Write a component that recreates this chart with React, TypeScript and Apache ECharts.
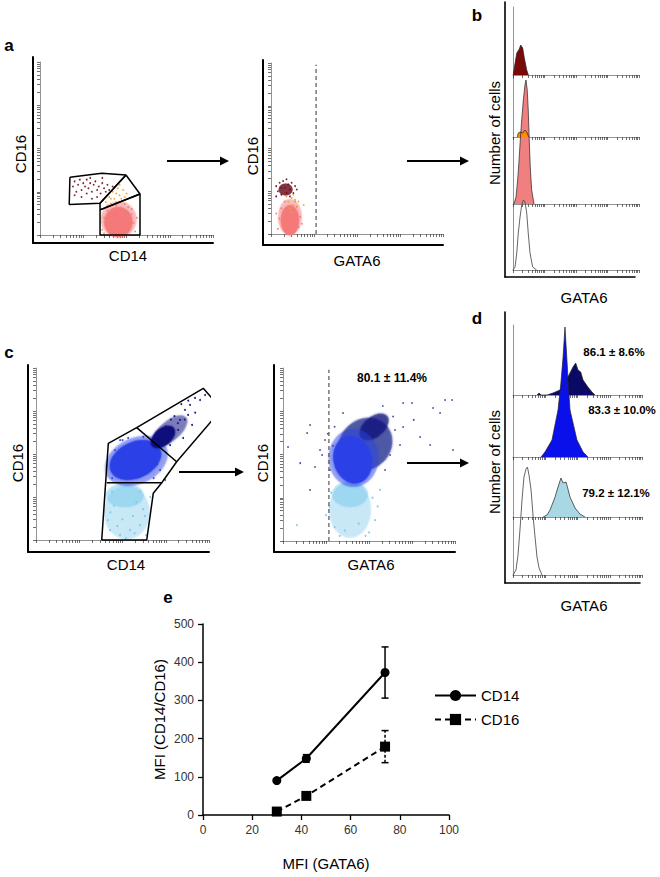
import React, { useEffect, useRef } from "react";
import * as echarts from "echarts";

const FONT = "'Liberation Sans', Arial, Helvetica, sans-serif";

// ---------------- Panel e: MFI values ----------------
const E_GATA6_MFI = [30, 42, 74];
const E_CD14_MFI = [90, 148, 373];
const E_CD14_SD = [4, 10, 67];
const E_CD16_MFI = [9, 50, 179];
const E_CD16_SD = [3, 5, 42];
const E_X_MIN = 0, E_X_MAX = 100, E_X_STEP = 20;
const E_Y_MIN = 0, E_Y_MAX = 500, E_Y_STEP = 100;
const E_SERIES = ["CD14", "CD16"];

// ---------------- Flow cytometry log-decade ticks (4 decades on a 0-100 channel scale) ----------------
const DECADE_TICKS = [0, 7.5, 11.9, 15.1, 17.5, 19.5, 21.1, 22.6, 23.9];
const DECADE_STARTS = [0, 25, 50, 75];
const LOG_TICKS = DECADE_STARTS.flatMap((d) => DECADE_TICKS.map((t) => +(d + t).toFixed(1))).concat([100]);

// ---------------- Panel a, left: CD14 vs CD16 ----------------
const A1_GATE_CD16 = [[17.3, 33.4], [35.7, 35.7], [49.7, 34.7], [34.7, 18.3], [16.9, 17.7], [17.3, 33.4]];
const A1_GATE_INTER = [[49.7, 34.7], [57.8, 23.7], [34.7, 14.5], [34.7, 18.3], [49.7, 34.7]];
const A1_GATE_CD14 = [[34.7, 14.5], [57.8, 23.7], [57.8, 0], [34.7, 0], [34.7, 14.5]];
const A1_PINK_CLOUD = [[45.5, 9.0], [45.3, 7.5]];
const A1_PINK_DOTS = [[36, 3], [37, 10], [38, 6], [39, 14], [40, 2], [52, 4], [53, 12], [54, 7], [55, 2], [51, 16], [49, 18], [41, 17], [56, 10], [38, 16], [53, 15], [46, 19], [44, 17], [37, 1]];
const A1_MAROON_DOTS = [[19, 28], [20, 31], [21, 25], [22, 29], [23, 32], [24, 26], [25, 30], [26, 28], [27, 24], [27, 32], [28, 27], [29, 30], [30, 25], [31, 29], [32, 31], [33, 26], [34, 28], [35, 24], [36, 30], [37, 27], [38, 25], [39, 29], [40, 26], [42, 28], [24, 22], [30, 21], [20, 23], [33, 22], [29, 33], [36, 33]];
const A1_ORANGE_DOTS = [[38, 19], [40, 22], [41, 18], [42, 25], [43, 21], [44, 19], [45, 27], [46, 23], [47, 21], [48, 26], [44, 24], [41, 21], [50, 24], [39, 17], [46, 29], [49, 22]];

// ---------------- Panel a, right: GATA6 vs CD16 ----------------
const A2_THRESHOLD = 26.2;
const A2_PINK_CLOUD = [[11.0, 10.0], [11.0, 8.0]];
const A2_PINK_DOTS = [[4, 3], [5, 9], [6, 15], [16, 4], [17, 10], [15, 16], [8, 19], [14, 19], [3, 12], [18, 6]];
const A2_MAROON_CLOUD = [[8.5, 26.0]];
const A2_MAROON_DOTS = [[3, 28], [4, 25], [5, 30], [6, 23], [7, 31], [8, 27], [9, 24], [10, 29], [11, 26], [12, 30], [13, 24], [14, 28], [6, 27], [9, 32], [11, 22], [3, 22], [15, 26]];
const A2_ORANGE_DOTS = [[10, 19], [12, 21], [13, 17], [11, 15], [14, 20], [12, 13], [9, 22], [15, 16], [16, 19], [19, 17], [13, 23]];

// ---------------- Panel b: GATA6 histograms (x = GATA6 channel, y = cell count) ----------------
const B_CD16_POS = [[0.2, 0], [1.0, 7], [3.0, 22], [5.0, 26], [6.1, 30], [7.7, 27], [9.0, 17], [10.9, 5], [12.2, 0]];
const B_INTERMEDIATE = [[3.4, 0], [4.2, 4], [5.6, 5], [7.7, 4], [9.5, 7], [10.9, 5], [12.5, 0]];
const B_CLASSICAL = [[0.8, 0], [2.4, 7], [3.7, 24], [4.8, 44], [5.8, 64], [6.9, 84], [8.2, 104], [9.5, 119], [10.3, 124], [11.3, 114], [12.1, 94], [12.9, 64], [13.7, 37], [14.8, 14], [16.7, 0]];
const B_ISOTYPE = [[0, 0], [1.6, 3], [3.0, 17], [4.2, 37], [5.6, 53], [6.9, 65], [8.2, 70], [9.5, 68], [10.9, 57], [12.1, 37], [13.5, 17], [15.6, 3], [18.8, 0]];

// ---------------- Panel c, left: CD14 vs CD16 ----------------
const C1_GATE_OUTER = [[38.0, 0], [41.8, 56.2], [58.2, 65.3], [96.7, 88.2], [107.3, 76.0], [81.3, 45.5], [72.7, 33.3], [67.8, 27.2], [64.0, 0], [38.0, 0]];
const C1_GATE_SPLIT_UPPER = [[58.2, 65.3], [81.3, 45.5]];
const C1_GATE_SPLIT_LOWER = [[40.9, 33.3], [72.7, 33.3]];
const C1_LIGHTBLUE_CLOUD = [[52.5, 16.0], [51.4, 26.0]];
const C1_BLUE_CLOUD = [[58.0, 46.0], [57.5, 46.5]];
const C1_NAVY_CLOUD = [[77.5, 63.5], [73.4, 59.9]];
const C1_NAVY_DOTS = [[83.2, 69.8], [86.1, 75.6], [89, 78.5], [91.9, 82.6], [94.8, 81.4], [87.9, 72.7], [82.1, 64], [97.7, 84.3], [90.2, 66.9], [77.5, 55.2], [85, 59.3], [80, 72], [84, 79], [92, 74], [88, 81], [79, 62], [82, 68], [86, 70], [75, 66], [78, 70]];
const C1_BLUE_DOTS = [[43.9, 40.7], [45.7, 52.3], [48.6, 58.1], [71.7, 40.7], [74.6, 34.9], [53.2, 59.3], [44, 36], [68, 36], [62, 60], [46, 47], [70, 44], [50, 58]];
const C1_LIGHTBLUE_DOTS = [[42.8, 5.8], [48.6, 2.9], [60.1, 8.7], [63, 14], [41.6, 11.6], [54.3, 5.8], [63.6, 2.9], [45, 20], [58, 22], [62, 18], [50, 12], [56, 14], [44, 28], [66, 25], [47, 8], [57, 4], [52, 1], [43, 16], [60, 28]];

// ---------------- Panel c, right: GATA6 vs CD16 ----------------
const C2_THRESHOLD = 26.7;
const C2_LABEL = "80.1 ± 11.4%";
const C2_LIGHTBLUE_CLOUD = [[39.0, 18.0], [39.0, 27.0]];
const C2_NAVY_CLOUD = [[48.0, 56.0], [53.0, 66.0]];
const C2_BLUE_CLOUD = [[41.0, 48.0], [40.5, 47.0]];
const C2_SPARSE_DOTS = [[2.9, 54.3], [14, 62.4], [15.7, 67.1], [34.9, 74], [69.8, 79.8], [75, 79.8], [87.2, 76.9], [91.3, 74], [94.2, 81.5], [98.3, 81.5], [98.8, 52.6], [85.5, 55.5], [69.8, 65.9], [15.7, 29.5], [21.5, 52.6], [18.6, 42.8], [79.7, 60.1], [24.4, 58.4], [27.3, 41], [22.7, 49.7], [65.1, 64.2], [68, 55.5], [59.3, 41], [62.2, 49.7], [10, 45], [30, 66], [76, 70], [64, 72], [58, 78], [26, 62], [29, 55]];
const C2_LIGHTBLUE_DOTS = [[8.1, 9.2], [56.4, 29.5], [53.5, 12.1], [25, 15], [30, 8], [50, 5], [28, 28], [55, 20], [48, 3], [33, 3], [36, 6], [44, 10], [27, 20], [52, 25]];

// ---------------- Panel d: GATA6 histograms ----------------
const D_CD16_POS = [[18.6, 0], [20.2, 2], [21.7, 0], [26.4, 0], [31.0, 2], [36.4, 5], [40.3, 10], [42.6, 18], [46.5, 28], [48.6, 32], [50.4, 25], [52.5, 23], [54.3, 15], [58.1, 8], [61.2, 3], [63.6, 0]];
const D_INTERMEDIATE = [[21.7, 0], [24.8, 5], [30.2, 17], [34.9, 47], [37.2, 75], [38.8, 100], [40.3, 130], [41.9, 95], [43.0, 70], [44.2, 47], [49.6, 17], [54.3, 5], [58.1, 0]];
const D_CLASSICAL = [[23.3, 0], [26.4, 2], [28.7, 7], [32.6, 20], [34.9, 30], [37.2, 39], [38.8, 34], [41.1, 35], [42.6, 28], [44.2, 20], [48.1, 9], [51.9, 3], [55.8, 0]];
const D_ISOTYPE = [[0, 0], [2.3, 5], [3.9, 20], [5.4, 45], [7.0, 75], [8.5, 98], [10.1, 106], [11.2, 108], [12.4, 100], [14.0, 85], [15.5, 60], [17.1, 38], [18.6, 18], [20.2, 7], [22.5, 0]];
const D_LABELS = ["86.1 ± 8.6%", "83.3 ± 10.0%", "79.2 ± 12.1%"];

// ---------------- Colours ----------------
const PINK = "#f47878";
const MAROON = "#6e0c1e";
const ORANGE = "#f0a02a";
const BLUE = "#2b40e6";
const NAVY = "#0d0f7c";
const LIGHTBLUE = "#74c6ea";
const D_BLUE = "#0a10ec";
const D_NAVY = "#0a0a66";
const D_LIGHTBLUE = "#a8d8e4";

function buildOption() {
  const grids: any[] = [
    { left: 203, top: 624, width: 246, height: 191 }, // 0 e
    { left: 33, top: 57, width: 180, height: 186 }, // 1 a1 frame
    { left: 40, top: 62, width: 173, height: 173 }, // 2 a1 inner
    { left: 263, top: 60, width: 180, height: 185 }, // 3 a2 frame
    { left: 271, top: 63, width: 172, height: 171 }, // 4 a2 inner
    { left: 505, top: 2, width: 130, height: 275 }, // 5 b frame
    { left: 513, top: 7, width: 126, height: 68 }, // 6 b lane 1
    { left: 513, top: 75, width: 126, height: 62 }, // 7 b lane 2
    { left: 513, top: 137, width: 126, height: 67 }, // 8 b lane 3
    { left: 513, top: 204, width: 126, height: 66 }, // 9 b lane 4
    { left: 28, top: 365, width: 181, height: 187 }, // 10 c1 frame
    { left: 36, top: 368, width: 173, height: 172 }, // 11 c1 inner
    { left: 274, top: 365, width: 181, height: 187 }, // 12 c2 frame
    { left: 283, top: 368, width: 172, height: 173 }, // 13 c2 inner
    { left: 505, top: 312, width: 135, height: 271 }, // 14 d frame
    { left: 513, top: 325, width: 129, height: 70 }, // 15 d lane 1
    { left: 513, top: 395, width: 129, height: 62 }, // 16 d lane 2
    { left: 513, top: 457, width: 129, height: 60 }, // 17 d lane 3
    { left: 513, top: 517, width: 129, height: 58 }, // 18 d lane 4
  ].map((g) => ({ ...g, outerBoundsMode: "none", containLabel: false }));

  const xAxis: any[] = [];
  const yAxis: any[] = [];

  // e axes
  xAxis.push({
    type: "value", gridIndex: 0, min: E_X_MIN, max: E_X_MAX, interval: E_X_STEP,
    name: "MFI (GATA6)", nameLocation: "middle", nameGap: 41,
    nameTextStyle: { fontFamily: FONT, fontSize: 15, color: "#000" },
    axisLine: { show: true, onZero: false, lineStyle: { color: "#000", width: 1.5 } },
    axisTick: { show: true, length: 5, lineStyle: { color: "#000", width: 1.3 } },
    axisLabel: { fontFamily: FONT, fontSize: 12, color: "#333", margin: 9 },
    splitLine: { show: false },
  });
  yAxis.push({
    type: "value", gridIndex: 0, min: E_Y_MIN, max: E_Y_MAX, interval: E_Y_STEP,
    name: "MFI (CD14/CD16)", nameLocation: "middle", nameGap: 36,
    nameTextStyle: { fontFamily: FONT, fontSize: 15, color: "#000" },
    axisLine: { show: true, onZero: false, lineStyle: { color: "#000", width: 1.5 } },
    axisTick: { show: true, length: 5, lineStyle: { color: "#000", width: 1.3 } },
    axisLabel: { fontFamily: FONT, fontSize: 12, color: "#333", margin: 9 },
    splitLine: { show: false },
  });

  const frameAxis = (gi: number, width = 1.8) => ({
    type: "value", gridIndex: gi, min: 0, max: 1,
    axisLine: { show: true, onZero: false, lineStyle: { color: "#000", width } },
    axisTick: { show: false }, axisLabel: { show: false }, splitLine: { show: false },
  });
  const innerAxis = (gi: number, ticks: boolean, max = 100) => ({
    type: "value", gridIndex: gi, min: 0, max,
    axisLine: { show: true, onZero: false, lineStyle: { color: "#777", width: 0.8 } },
    axisTick: ticks
      ? { show: true, customValues: LOG_TICKS, length: 3, lineStyle: { color: "#333", width: 0.7 } }
      : { show: false },
    axisLabel: { show: false }, splitLine: { show: false },
  });

  const laneHeights: Record<number, number> = { 6: 68, 7: 62, 8: 67, 9: 66, 15: 70, 16: 62, 17: 60, 18: 58 };
  for (let gi = 1; gi < grids.length; gi++) {
    if ([1, 3, 10, 12].includes(gi)) {
      xAxis.push(frameAxis(gi, 2));
      yAxis.push(frameAxis(gi, 2));
    } else if ([5, 14].includes(gi)) {
      xAxis.push(frameAxis(gi, 1.6));
      yAxis.push(frameAxis(gi, 1.6));
    } else if (laneHeights[gi] !== undefined) {
      xAxis.push(innerAxis(gi, true));
      yAxis.push(innerAxis(gi, false, laneHeights[gi]));
    } else {
      xAxis.push(innerAxis(gi, true));
      yAxis.push(innerAxis(gi, true));
    }
  }

  const series: any[] = [];

  // ---- e ----
  const errorBars = (name: string, means: number[], sds: number[], dashed: boolean) => ({
    type: "custom", name, xAxisIndex: 0, yAxisIndex: 0, z: 2, silent: true,
    data: E_GATA6_MFI.map((x, i) => [x, means[i] - sds[i], means[i] + sds[i]]),
    encode: { x: 0, y: [1, 2] },
    renderItem: (_p: any, api: any) => {
      const x = api.value(0);
      const lo = api.coord([x, api.value(1)]);
      const hi = api.coord([x, api.value(2)]);
      const w = 3.5;
      const st: any = { stroke: "#000", lineWidth: 1.5 };
      const stem: any = dashed ? { ...st, lineDash: [3, 2] } : st;
      return {
        type: "group",
        children: [
          { type: "line", shape: { x1: lo[0], y1: lo[1], x2: hi[0], y2: hi[1] }, style: stem },
          { type: "line", shape: { x1: hi[0] - w, y1: hi[1], x2: hi[0] + w, y2: hi[1] }, style: st },
          { type: "line", shape: { x1: lo[0] - w, y1: lo[1], x2: lo[0] + w, y2: lo[1] }, style: st },
        ],
      };
    },
  });
  series.push(errorBars("CD14 SD", E_CD14_MFI, E_CD14_SD, false));
  series.push(errorBars("CD16 SD", E_CD16_MFI, E_CD16_SD, true));
  series.push({
    type: "line", name: E_SERIES[0], xAxisIndex: 0, yAxisIndex: 0, z: 3,
    data: E_GATA6_MFI.map((x, i) => [x, E_CD14_MFI[i]]),
    symbol: "circle", symbolSize: 9, showSymbol: true,
    lineStyle: { color: "#000", width: 2 }, itemStyle: { color: "#000" },
  });
  series.push({
    type: "line", name: E_SERIES[1], xAxisIndex: 0, yAxisIndex: 0, z: 3,
    data: E_GATA6_MFI.map((x, i) => [x, E_CD16_MFI[i]]),
    symbol: "rect", symbolSize: 10, showSymbol: true,
    lineStyle: { color: "#000", width: 2, type: [6, 4] }, itemStyle: { color: "#000" },
  });

  // ---- helpers for flow panels ----
  const gate = (gi: number, data: number[][]) => ({
    type: "line", xAxisIndex: gi, yAxisIndex: gi, data, symbol: "none", showSymbol: false,
    clip: false, silent: true, z: 6, lineStyle: { color: "#000", width: 1.5 },
  });
  const threshold = (gi: number, x: number) => ({
    type: "line", xAxisIndex: gi, yAxisIndex: gi, data: [[x, 0], [x, 99]], symbol: "none",
    showSymbol: false, silent: true, z: 6, lineStyle: { color: "#333", width: 1, type: [4, 3] },
  });
  const blob = (gi: number, pt: number[], size: number[], rotate: number, color: string, opacity: number, blur = 2) => ({
    type: "scatter", xAxisIndex: gi, yAxisIndex: gi, data: [pt], symbol: "circle",
    symbolSize: size, symbolRotate: rotate, silent: true, z: 2,
    itemStyle: { color, opacity, shadowBlur: blur, shadowColor: color },
  });
  const dots = (gi: number, data: number[][], color: string, size = 2) => ({
    type: "scatter", xAxisIndex: gi, yAxisIndex: gi, data, symbol: "circle", symbolSize: size,
    silent: true, z: 3, itemStyle: { color, opacity: 0.9 },
  });
  const hist = (gi: number, data: number[][], fill: string | null) => ({
    type: "line", xAxisIndex: gi, yAxisIndex: gi, data, symbol: "none", showSymbol: false,
    clip: false, silent: true, z: 2,
    lineStyle: { color: fill ? "#222" : "#555", width: fill ? 0.7 : 0.9 },
    areaStyle: fill ? { color: fill, opacity: 1 } : undefined,
  });

  // ---- a1 ----
  series.push(blob(2, A1_PINK_CLOUD[0], [36, 36], 0, PINK, 0.3));
  series.push(blob(2, A1_PINK_CLOUD[1], [28, 30], 0, PINK, 0.92));
  series.push(dots(2, A1_PINK_DOTS, PINK, 1.8));
  series.push(dots(2, A1_MAROON_DOTS, MAROON, 1.8));
  series.push(dots(2, A1_ORANGE_DOTS, ORANGE, 1.8));
  series.push(gate(2, A1_GATE_CD16));
  series.push(gate(2, A1_GATE_INTER));
  series.push(gate(2, A1_GATE_CD14));

  // ---- a2 ----
  series.push(blob(4, A2_PINK_CLOUD[0], [24, 36], 0, PINK, 0.3));
  series.push(blob(4, A2_PINK_CLOUD[1], [18, 30], 0, PINK, 0.92));
  series.push(dots(4, A2_PINK_DOTS, PINK, 1.8));
  series.push(dots(4, A2_ORANGE_DOTS, ORANGE, 1.8));
  series.push(blob(4, A2_MAROON_CLOUD[0], [14, 12], 0, MAROON, 0.6, 1));
  series.push(dots(4, A2_MAROON_DOTS, MAROON, 1.8));
  series.push(threshold(4, A2_THRESHOLD));

  // ---- b ----
  series.push(hist(6, B_CD16_POS, "#7a0a0a"));
  series.push(hist(8, B_CLASSICAL, "#f08080"));
  series.push(hist(7, B_INTERMEDIATE, "#ff8c00"));
  series.push(hist(9, B_ISOTYPE, null));

  // ---- c1 ----
  series.push(blob(11, C1_LIGHTBLUE_CLOUD[0], [46, 54], 0, LIGHTBLUE, 0.22));
  series.push(blob(11, C1_LIGHTBLUE_CLOUD[1], [38, 24], 0, LIGHTBLUE, 0.3));
  series.push(blob(11, C1_BLUE_CLOUD[0], [66, 46], 25, BLUE, 0.3));
  series.push(blob(11, C1_BLUE_CLOUD[1], [54, 36], 25, BLUE, 0.95));
  series.push(blob(11, C1_NAVY_CLOUD[0], [42, 20], 40, NAVY, 0.3));
  series.push(blob(11, C1_NAVY_CLOUD[1], [28, 17], 40, NAVY, 0.92));
  series.push(dots(11, C1_LIGHTBLUE_DOTS, LIGHTBLUE, 2));
  series.push(dots(11, C1_BLUE_DOTS, BLUE, 2));
  series.push(dots(11, C1_NAVY_DOTS, NAVY, 2));
  series.push(gate(11, C1_GATE_OUTER));
  series.push(gate(11, C1_GATE_SPLIT_UPPER));
  series.push(gate(11, C1_GATE_SPLIT_LOWER));

  // ---- c2 ----
  series.push(blob(13, C2_LIGHTBLUE_CLOUD[0], [42, 56], 0, LIGHTBLUE, 0.22));
  series.push(blob(13, C2_LIGHTBLUE_CLOUD[1], [36, 26], 0, LIGHTBLUE, 0.3));
  series.push(blob(13, C2_NAVY_CLOUD[0], [56, 50], 40, NAVY, 0.45));
  series.push(blob(13, C2_NAVY_CLOUD[1], [34, 20], 40, NAVY, 0.55));
  series.push(blob(13, C2_BLUE_CLOUD[0], [50, 58], 0, BLUE, 0.3));
  series.push(blob(13, C2_BLUE_CLOUD[1], [38, 48], 15, BLUE, 0.95));
  series.push(dots(13, C2_LIGHTBLUE_DOTS, LIGHTBLUE, 2));
  series.push(dots(13, C2_SPARSE_DOTS, "#3a3a9a", 1.8));
  series.push(threshold(13, C2_THRESHOLD));

  // ---- d ----
  series.push(hist(15, D_CD16_POS, D_NAVY));
  series.push(hist(16, D_INTERMEDIATE, D_BLUE));
  series.push(hist(17, D_CLASSICAL, D_LIGHTBLUE));
  series.push(hist(18, D_ISOTYPE, null));

  // ---- graphic: titles, letters, arrows ----
  const txt = (text: string, x: number, y: number, size = 15, weight = "normal", rot = 0) => ({
    type: "text", x, y, rotation: rot, z: 100, silent: true,
    style: { text, fill: "#000", fontSize: size, fontWeight: weight, fontFamily: FONT, align: "center", verticalAlign: "middle" },
  });
  const R = Math.PI / 2;
  const arrow = (x1: number, x2: number, y: number) => [
    { type: "line", z: 100, silent: true, shape: { x1, y1: y, x2: x2 - 6, y2: y }, style: { stroke: "#000", lineWidth: 2 } },
    { type: "polygon", z: 100, silent: true, shape: { points: [[x2 - 9, y - 4.5], [x2, y], [x2 - 9, y + 4.5]] }, style: { fill: "#000" } },
  ];
  const graphic: any[] = [
    txt("a", 9, 45, 17, "bold"),
    txt("b", 477, 15, 17, "bold"),
    txt("c", 9, 352, 17, "bold"),
    txt("d", 477, 318, 17, "bold"),
    txt("e", 168, 597, 17, "bold"),
    txt("CD16", 20, 154, 15, "normal", R),
    txt("CD14", 128, 255, 15),
    txt("CD16", 252, 156, 15, "normal", R),
    txt("GATA6", 357, 260, 15),
    txt("Number of cells", 494, 133, 15, "normal", R),
    txt("GATA6", 584, 297, 15),
    txt("CD16", 17, 463, 15, "normal", R),
    txt("CD14", 126, 564, 15),
    txt("CD16", 262, 463, 15, "normal", R),
    txt("GATA6", 371, 564, 15),
    txt(C2_LABEL, 392, 378, 12, "bold"),
    txt("Number of cells", 494, 462, 15, "normal", R),
    txt("GATA6", 584, 605, 15),
    txt(D_LABELS[0], 614, 352, 11.5, "bold"),
    txt(D_LABELS[1], 622, 410, 11.5, "bold"),
    txt(D_LABELS[2], 616, 493, 11.5, "bold"),
    ...arrow(167, 229, 161),
    ...arrow(407, 469, 161),
    ...arrow(179, 244, 472),
    ...arrow(407, 469, 463),
  ];

  return {
    animation: false,
    backgroundColor: "#fff",
    textStyle: { fontFamily: FONT },
    grid: grids,
    xAxis,
    yAxis,
    series,
    graphic,
    legend: {
      data: E_SERIES, orient: "vertical", left: 429, top: 683,
      itemWidth: 41, itemHeight: 14, itemGap: 9,
      textStyle: { fontFamily: FONT, fontSize: 15, color: "#000" },
      selectedMode: false,
    },
  };
}

export default function App() {
  const ref = useRef<HTMLDivElement>(null);
  useEffect(() => {
    document.body.style.margin = "0";
    const chart = echarts.init(ref.current!, null, { renderer: "svg" });
    chart.setOption(buildOption() as any);
    return () => chart.dispose();
  }, []);
  return <div ref={ref} style={{ width: 660, height: 877 }} />;
}
